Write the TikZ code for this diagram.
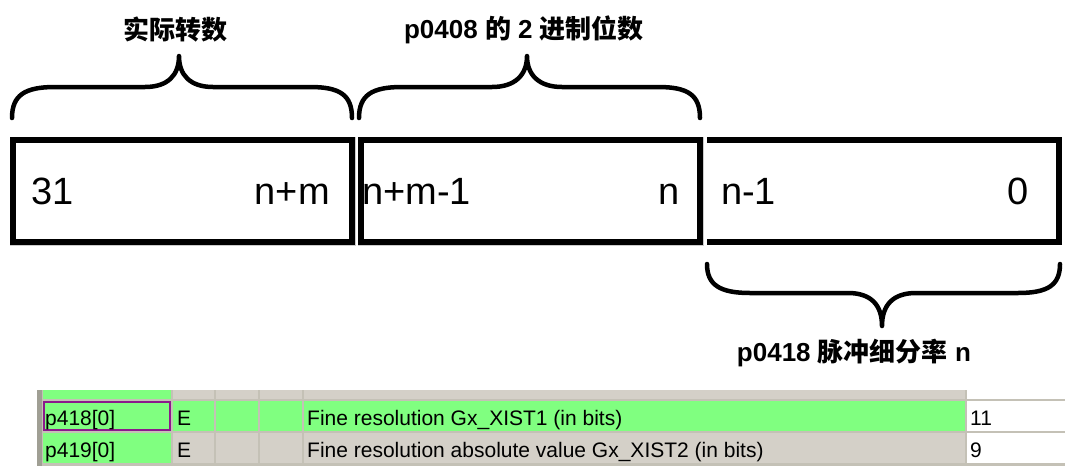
\documentclass[tikz,border=0pt]{standalone}
\usepackage{fontspec}
\setmainfont{Liberation Sans}
\newfontfamily\cjk{Noto Sans CJK SC}
\definecolor{tgreen}{HTML}{80FF80}
\definecolor{tgray}{HTML}{D4D0C8}
\definecolor{tsep}{HTML}{C4C1B6}
\definecolor{tedge}{HTML}{A09F94}
\definecolor{tpurple}{HTML}{8B1A8B}
\begin{document}
\begin{tikzpicture}[x=1pt,y=-1pt,
  brace/.style={line width=4.5pt,line cap=round,line join=round},
  bitbox/.style={line width=6pt},
  bitedge/.style={draw=gray!40,line width=0.8pt},
  bitlbl/.style={font=\fontsize{38}{40}\selectfont,inner sep=0pt},
  head/.style={font=\fontsize{26}{30}\selectfont\bfseries,inner sep=0pt},
  cell/.style={font=\fontsize{21}{23}\selectfont,inner sep=0pt,anchor=base west}]
\useasboundingbox (0,0) rectangle (1065,466);
\fill[white] (0,0) rectangle (1065,466);

% bit boxes
\draw[bitedge] (10,137) rectangle (355,245);
\draw[bitbox] (13,140) rectangle (352,242);
\draw[bitedge] (358,137) rectangle (703,245);
\draw[bitbox] (361,140) rectangle (700,242);
\draw[bitbox] (707,140) -- (1059,140) -- (1059,242) -- (707,242);

\node[bitlbl,anchor=base west] (b31) at (31,204) {31};
\node[bitlbl,anchor=base east] (bnm) at (330,204) {n+m};
\node[bitlbl,anchor=base west] (bnm1) at (362,204) {n+m-1};
\node[bitlbl,anchor=base east] (bn) at (680,204) {n};
\node[bitlbl,anchor=base west] (bn1) at (721,204) {n-1};
\node[bitlbl,anchor=base east] (b0) at (1029,204) {0};

% braces
\draw[brace] (12,118) .. controls (12,95) and (25,87) .. (55,87) -- (145,87)
  .. controls (168,87) and (179,75) .. (179,56)
  .. controls (179,75) and (190,87) .. (213,87) -- (310,87)
  .. controls (340,87) and (352,95) .. (352,118);
\draw[brace] (359,118) .. controls (359,95) and (372,87) .. (402,87) -- (492,87)
  .. controls (515,87) and (527,75) .. (527,56)
  .. controls (527,75) and (539,87) .. (562,87) -- (658,87)
  .. controls (688,87) and (700,95) .. (700,118);
\draw[brace] (707,264) .. controls (707,285) and (720,293) .. (750,293) -- (848,293)
  .. controls (871,293) and (882,305) .. (882,326)
  .. controls (882,305) and (893,293) .. (916,293) -- (1018,293)
  .. controls (1048,293) and (1060,285) .. (1060,264);

% headings
\node[head] (h1) at (175,30) {\cjk 实际转数};
\node[head] (h2) at (524,30) {p0408 {\cjk 的} 2 {\cjk 进制位数}};
\node[head] (h3) at (854,353) {p0418 {\cjk 脉冲细分率} n};

% table
\fill[tsep] (37,390) rectangle (1065,466);
\fill[tedge] (37,390) rectangle (42,466);
% partial top row
\fill[tgreen] (43,390) rectangle (171,399);
\fill[tgray] (173,390) rectangle (214,399);
\fill[tgray] (216,390) rectangle (258,399);
\fill[tgray] (260,390) rectangle (302,399);
\fill[tgray] (304,390) rectangle (965,399);
\fill[white] (967,390) rectangle (1065,399);
% row 1
\fill[tgreen] (43,401) rectangle (171,431);
\fill[tgreen] (173,401) rectangle (214,431);
\fill[tgreen] (216,401) rectangle (258,431);
\fill[tgreen] (260,401) rectangle (302,431);
\fill[tgreen] (304,401) rectangle (965,431);
\fill[white] (967,401) rectangle (1065,431);
\draw[tpurple,line width=1.3pt] (44,402) rectangle (170,430);
% row 2
\fill[tgreen] (43,433) rectangle (171,463);
\fill[tgray] (173,433) rectangle (214,463);
\fill[tgray] (216,433) rectangle (258,463);
\fill[tgray] (260,433) rectangle (302,463);
\fill[tgray] (304,433) rectangle (965,463);
\fill[white] (967,433) rectangle (1065,463);

\node[cell] (r1a) at (45,425) {p418[0]};
\node[cell] (r1b) at (177,425) {E};
\node[cell] (r1c) at (307,425) {Fine resolution Gx\_XIST1 (in bits)};
\node[cell] (r1d) at (970,425) {11};
\node[cell] (r2a) at (45,457) {p419[0]};
\node[cell] (r2b) at (177,457) {E};
\node[cell] (r2c) at (307,457) {Fine resolution absolute value Gx\_XIST2 (in bits)};
\node[cell] (r2d) at (970,457) {9};
\end{tikzpicture}
\end{document}
